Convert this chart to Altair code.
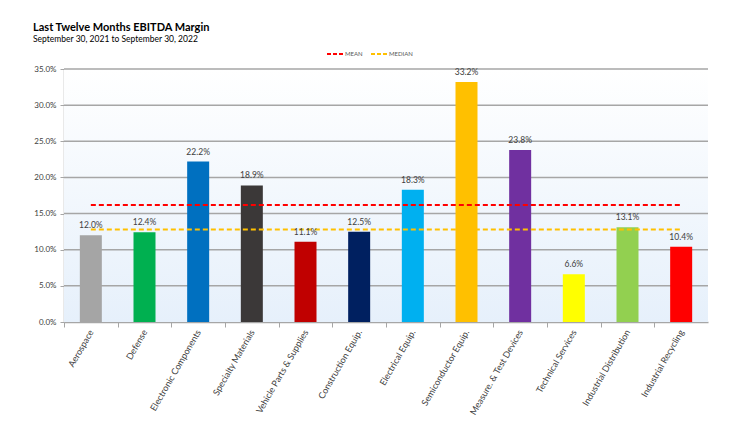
import altair as alt
import pandas as pd

categories = ["Aerospace", "Defense", "Electronic Components", "Specialty Materials",
              "Vehicle Parts & Supplies", "Construction Equip.", "Electrical Equip.",
              "Semiconductor Equip.", "Measure. & Test Devices", "Technical Services",
              "Industrial Distribution", "Industrial Recycling"]
margins = [0.120, 0.124, 0.222, 0.189, 0.111, 0.125, 0.183, 0.332, 0.238, 0.066, 0.131, 0.104]
bar_colors = ["#a5a5a5", "#00b050", "#0070c0", "#3b3838", "#c00000", "#002060",
              "#00b0f0", "#ffc000", "#7030a0", "#ffff00", "#92d050", "#ff0000"]
series_names = ["MEAN", "MEDIAN"]
series_values = [0.162, 0.128]
series_colors = ["#ff0000", "#ffc000"]
y_ticks = [0.0, 0.05, 0.10, 0.15, 0.20, 0.25, 0.30, 0.35]

FONT = "Lato"
W, H = 644, 253
step = W / len(categories)

bars_df = pd.DataFrame({"category": categories, "margin": margins})
lines_df = pd.DataFrame({
    "category": categories * len(series_names),
    "value": [v for v in series_values for _ in categories],
    "series": [s for s in series_names for _ in categories],
})
grid_df = pd.DataFrame({"tick": y_ticks[1:]})

x_enc = alt.X(
    "category:N", sort=categories,
    scale=alt.Scale(paddingInner=0.59, paddingOuter=0.295),
    axis=alt.Axis(title=None, labelAngle=300, labelAlign="right", labelBaseline="middle",
                  labelFontSize=9, labelColor="#404040", labelFont=FONT, labelPadding=3,
                  tickColor="#a6a6a6", tickSize=5, tickWidth=1,
                  domainColor="#a6a6a6", domainWidth=1.5,
                  tickOffset=-step / 2, labelOffset=step / 2, grid=False),
)
y_scale = alt.Scale(domain=[0, 0.35], nice=False)
y_axis = alt.Axis(title=None, format=".1%", values=y_ticks, tickCount=8, labelFontSize=8,
                  labelColor="#404040", labelFont=FONT, labelPadding=4, labelOverlap=False,
                  tickColor="#a6a6a6", tickSize=4, domainColor="#a6a6a6", domainWidth=1.5,
                  grid=False)

gradient = alt.LinearGradient(
    gradient="linear", x1=0, x2=0, y1=0, y2=1,
    stops=[alt.GradientStop(color="#ffffff", offset=0),
           alt.GradientStop(color="#e6f0fb", offset=1)],
)

backdrop = alt.Chart(pd.DataFrame({"k": [0]})).mark_rect(fill=gradient).encode(
    x=alt.value(0), x2=alt.value("width"),
    y=alt.datum(0.35), y2=alt.datum(0),
)

grid = alt.Chart(grid_df).mark_rule(color="#a6a6a6", strokeWidth=1.5).encode(
    y=alt.Y("tick:Q"),
    x=alt.value(0), x2=alt.value("width"),
)

bars = alt.Chart(bars_df).mark_bar().encode(
    x=x_enc,
    y=alt.Y("margin:Q", scale=y_scale, axis=y_axis),
    color=alt.Color("category:N", sort=categories,
                    scale=alt.Scale(domain=categories, range=bar_colors), legend=None),
)

labels = alt.Chart(bars_df).mark_text(baseline="bottom", dy=-5, fontSize=8.5,
                                      color="#404040", font=FONT).encode(
    x=alt.X("category:N", sort=categories),
    y=alt.Y("margin:Q"),
    text=alt.Text("margin:Q", format=".1%"),
)

lines = alt.Chart(lines_df).mark_line(strokeDash=[5, 3], strokeWidth=2).encode(
    x=alt.X("category:N", sort=categories),
    y=alt.Y("value:Q"),
    stroke=alt.Stroke("series:N",
                      scale=alt.Scale(domain=series_names, range=series_colors),
                      legend=alt.Legend(title=None, orient="none", legendX=262, legendY=-24,
                                        direction="horizontal", symbolType="stroke",
                                        symbolDash=[4, 2], symbolStrokeWidth=2, symbolSize=256,
                                        labelFontSize=6, labelColor="#595959", labelFont=FONT,
                                        columnPadding=4, labelOffset=1)),
    detail="series:N",
)

chart = alt.layer(backdrop, grid, bars, lines, labels).properties(
    width=W, height=H,
    title=alt.Title("Last Twelve Months EBITDA Margin",
                    subtitle="September 30, 2021 to September 30, 2022",
                    anchor="start", frame="group", font=FONT, fontSize=11, fontWeight="bold",
                    color="#000000", subtitleFont=FONT, subtitleFontSize=8.5,
                    subtitleColor="#000000", subtitlePadding=2, dx=-31, offset=2),
    autosize=alt.AutoSizeParams(type="none"),
    padding={"left": 56, "top": 61, "right": 18, "bottom": 100},
    background="#ffffff",
).configure_view(stroke=None)

chart.save("out.html", embed_options={"renderer": "svg", "actions": False})
